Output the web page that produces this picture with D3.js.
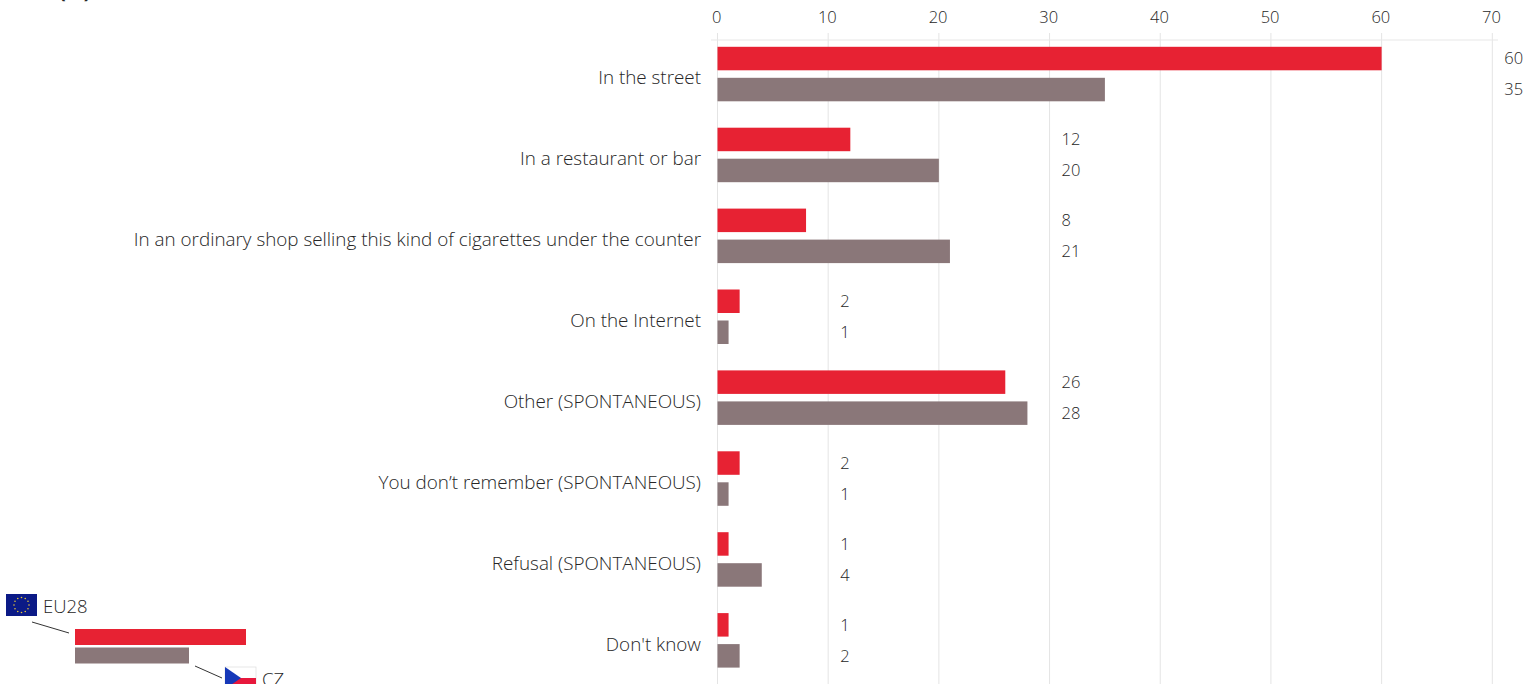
<!DOCTYPE html>
<html><head><meta charset="utf-8">
<script src="https://cdn.jsdelivr.net/npm/d3@7"></script>
<style>
html,body{margin:0;padding:0;background:#fff;overflow:hidden}
text{font-family:"Open Sans",sans-serif;fill:#262626}
</style></head><body>
<svg id="c" width="1537" height="684"></svg>
<script>
const categories = ["In the street","In a restaurant or bar","In an ordinary shop selling this kind of cigarettes under the counter","On the Internet","Other (SPONTANEOUS)","You don\u2019t remember (SPONTANEOUS)","Refusal (SPONTANEOUS)","Don't know"];
const eu28 = [60,12,8,2,26,2,1,1];
const cz = [35,20,21,1,28,1,4,2];
const ticks = [0,10,20,30,40,50,60,70];
const legendSample = [3,2];
const legendNames = ["EU28","CZ"];
const RED="#e72233", GREY="#8a7779";

const svg=d3.select("#c");
const x=d3.scaleLinear().domain([0,70]).range([717.5,1492.3]);
const y=d3.scaleBand().domain(categories).range([33.6,680.8]);
const off=d3.scaleOrdinal().domain(["eu","cz"]).range([-15.5,15.5]);
const barH=23.5;

// clipped title fragment at the top edge
svg.append("text").attr("x",59).attr("y",-2).attr("font-size",20).attr("font-weight",700).text("(%)");

// grid
svg.append("g").selectAll("line").data(ticks).join("line")
  .attr("x1",d=>x(d)).attr("x2",d=>x(d)).attr("y1",33).attr("y2",684)
  .attr("stroke","#e4e4e4").attr("stroke-width",1);
svg.append("line").attr("x1",711).attr("x2",1498).attr("y1",40).attr("y2",40).attr("stroke","#e8e8e8").attr("stroke-width",1.2);

// top axis labels
svg.append("g").selectAll("text").data(ticks).join("text")
  .attr("x",d=>x(d)-0.8).attr("y",23).attr("text-anchor","middle").attr("font-size",16.5).attr("font-weight",300).text(d=>d);

// category labels
svg.append("g").selectAll("text").data(categories).join("text")
  .attr("x",701).attr("y",d=>y(d)+y.bandwidth()/2+4.2).attr("dy","0.32em").attr("text-anchor","end")
  .attr("font-size",18.85).attr("font-weight",300).text(d=>d);

const rows=categories.map((c,i)=>({c,eu:eu28[i],cz:cz[i]}));
[["eu",RED],["cz",GREY]].forEach(([k,col])=>{
  const cy=d=>y(d.c)+y.bandwidth()/2+off(k);
  svg.append("g").selectAll("rect").data(rows).join("rect")
    .attr("x",x(0)).attr("y",d=>cy(d)-barH/2).attr("width",d=>x(d[k])-x(0)).attr("height",barH).attr("fill",col);
  svg.append("g").selectAll("text").data(rows).join("text")
    .attr("x",d=>x((Math.floor(Math.max(d.eu,d.cz)/10)+1)*10)+12)
    .attr("y",cy).attr("dy","0.35em").attr("font-size",16.5).attr("font-weight",300).text(d=>d[k]);
});

// legend
const lx=d3.scaleLinear().domain([0,3]).range([75,246]);
const lg=svg.append("g");
lg.selectAll("rect").data(legendSample).join("rect")
  .attr("x",lx(0)).attr("y",(d,i)=>i?647.5:629).attr("width",d=>lx(d)-lx(0)).attr("height",16).attr("fill",(d,i)=>i?GREY:RED);
lg.selectAll("line").data([[32,622,69,633],[195,666,222,678]]).join("line")
  .attr("x1",d=>d[0]).attr("y1",d=>d[1]).attr("x2",d=>d[2]).attr("y2",d=>d[3]).attr("stroke","#333").attr("stroke-width",1);
lg.selectAll("text").data(legendNames).join("text")
  .attr("x",(d,i)=>i?262:43).attr("y",(d,i)=>i?686:613).attr("font-size",18.5).attr("font-weight",300).text(d=>d);

// EU flag
const eu=lg.append("g").attr("transform","translate(6,594)");
eu.append("rect").attr("width",31).attr("height",22).attr("fill","#0b1a86");
eu.selectAll("circle").data(d3.range(12)).join("circle")
  .attr("cx",d=>15.5+7.5*Math.cos(d*Math.PI/6)).attr("cy",d=>11+7.5*Math.sin(d*Math.PI/6)).attr("r",0.8).attr("fill","#e3c53a");
// CZ flag
const f=lg.append("g").attr("transform","translate(225,667)");
f.append("rect").attr("width",31).attr("height",22).attr("fill","#fff").attr("stroke","#ddd").attr("stroke-width",.7);
f.append("rect").attr("y",11).attr("width",31).attr("height",11).attr("fill","#e7183c");
f.append("path").attr("d","M0,0L16,11L0,22Z").attr("fill","#1638b8");
</script>
</body></html>
